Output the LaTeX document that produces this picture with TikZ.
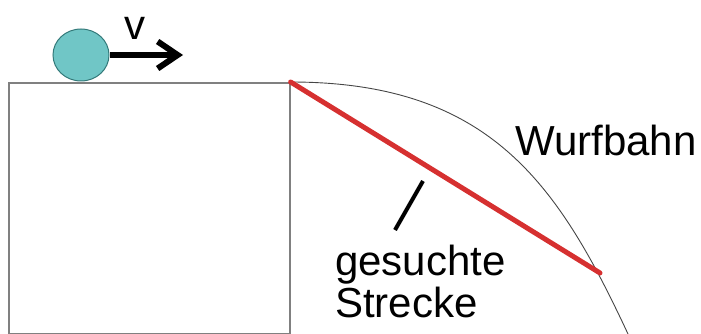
\documentclass[tikz,border=0pt]{standalone}
\usepackage{fontspec}
\setmainfont{Liberation Sans}
\usetikzlibrary{arrows.meta,shapes.geometric}
\definecolor{ballfill}{RGB}{112,198,198}
\definecolor{balledge}{RGB}{52,122,122}
\definecolor{tablegray}{RGB}{128,128,128}
\definecolor{pathred}{RGB}{214,48,48}
\definecolor{curvegray}{RGB}{70,70,70}
\tikzset{
  lbl/.style={anchor=base west, inner sep=0pt, font=\fontsize{42}{42}\selectfont},
  tablebox/.style={draw=tablegray, line width=1.6pt, anchor=north west, inner sep=0pt},
  ballshape/.style={ellipse, draw=balledge, line width=1pt, fill=ballfill, inner sep=0pt},
  speed/.style={line width=6pt, -{Straight Barb[length=20pt,width=27pt]}},
  trajectory/.style={draw=curvegray, line width=0.9pt},
  chord/.style={draw=pathred, line width=5pt, line cap=round},
  pointer/.style={line width=4pt}
}
\begin{document}
\begin{tikzpicture}[x=1pt,y=-1pt]
\useasboundingbox (0,0) rectangle (701,334);
\node[tablebox, minimum width=281pt, minimum height=251pt] (table) at (8,82) {};
\node[ballshape, minimum width=56pt, minimum height=52pt] (ball) at (81,55) {};
\coordinate (vend) at (183,55);
\draw[speed] (ball.east) -- (vend);
\node[lbl] (v) at (124,40) {v};
\coordinate (land) at (628,334);
\coordinate (hit) at (600,273);
\draw[trajectory] (table.north east) .. controls (490,82) and (558,184) .. (land);
\draw[chord] (table.north east) -- (hit);
\node[lbl] (wurf) at (515,155) {Wurfbahn};
\coordinate (tickA) at (423,181);
\coordinate (tickB) at (395,230);
\draw[pointer] (tickA) -- (tickB);
\node[lbl] (ges) at (335,275) {gesuchte};
\node[lbl] (str) at (335,317) {Strecke};
\end{tikzpicture}
\end{document}
